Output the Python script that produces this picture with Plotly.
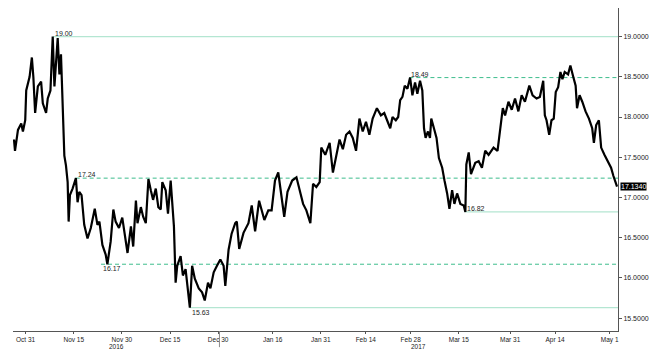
import pandas as pd
import plotly.graph_objects as go

BASE = pd.Timestamp("2016-10-31")

# day offsets from 2016-10-31 and price values
day = [-3.62, -3.31, -2.38, -1.36, -0.84, -0.12, 0.19, 1.24, 1.95, 2.41, 2.97, 3.81, 4.83, 5.36, 6.38, 6.90, 7.74, 8.45,
       8.98, 9.47, 10.00, 10.53, 11.02, 11.33, 11.76, 12.07, 12.57, 13.10, 13.41, 13.81, 14.64, 15.67, 16.19, 16.72,
       17.43, 18.27, 19.29, 20.31, 21.55, 22.38, 23.00, 23.93, 24.95, 25.48, 26.50, 27.34, 28.05, 29.10, 30.12, 31.20,
       31.76, 32.82, 33.53, 34.37, 34.86, 35.91, 36.63, 37.46, 38.27, 39.01, 39.72, 40.56, 41.36, 42.11, 42.60, 43.65,
       44.37, 45.20, 45.70, 46.22, 46.75, 47.24, 48.30, 49.01, 49.85, 51.18, 51.89, 52.73, 53.96, 54.99, 55.82, 56.84,
       57.59, 58.61, 59.63, 60.68, 61.70, 62.23, 63.25, 64.20, 65.33, 65.82, 66.56, 67.90, 69.44, 70.46, 71.52, 72.76,
       74.40, 75.63, 76.66, 77.71, 78.73, 79.75, 80.59, 81.61, 83.07, 84.40, 85.45, 86.47, 87.49, 88.73, 89.57, 90.59,
       91.64, 92.14, 93.38, 94.74, 95.76, 96.78, 97.83, 98.86, 99.88, 100.93, 101.95, 102.97, 104.02, 105.05, 106.07,
       107.12, 108.14, 109.47, 110.71, 111.76, 112.57, 113.62, 114.33, 115.36, 116.10, 116.72, 117.43, 118.14, 118.98,
       119.81, 120.53, 121.36, 122.07, 122.91, 123.62, 124.15, 124.64, 125.39, 126.01, 126.41, 127.24, 128.05, 128.79,
       129.81, 130.53, 131.36, 132.07, 132.91, 133.62, 134.46, 135.48, 136.53, 137.03, 137.34, 138.08, 138.79, 140.12,
       141.18, 142.20, 143.22, 144.27, 145.82, 147.06, 147.86, 148.70, 149.41, 150.46, 151.49, 152.51, 153.56, 154.58,
       155.60, 156.97, 157.99, 159.23, 160.25, 161.30, 161.80, 162.33, 163.16, 163.87, 164.58, 165.20, 165.95, 166.66,
       167.28, 167.99, 169.04, 169.76, 170.59, 171.40, 171.83, 172.63, 173.47, 174.49, 175.54, 176.56, 177.09, 177.80,
       178.64, 179.35, 180.37, 181.42, 182.44, 183.15, 183.99, 184.30]
price = [17.72, 17.58, 17.84, 17.92, 17.82, 17.96, 18.33, 18.50, 18.74, 18.50, 18.05, 18.38, 18.44, 18.17, 18.05, 18.23,
         18.33, 19.00, 18.38, 18.70, 18.98, 18.53, 18.78, 18.41, 17.92, 17.52, 17.40, 17.19, 16.70, 17.03, 17.11, 17.24,
         16.94, 17.07, 17.03, 16.66, 16.49, 16.62, 16.86, 16.66, 16.70, 16.41, 16.29, 16.17, 16.45, 16.85, 16.70, 16.62,
         16.75, 16.43, 16.31, 16.64, 16.39, 16.96, 16.68, 16.88, 16.76, 16.68, 17.23, 17.09, 16.97, 17.11, 16.88, 16.85,
         17.19, 17.09, 16.80, 17.21, 16.96, 16.64, 15.94, 16.15, 16.27, 16.03, 16.11, 15.63, 16.15, 15.99, 15.87, 15.82,
         15.72, 15.94, 15.87, 16.07, 16.15, 16.23, 16.15, 15.90, 16.35, 16.55, 16.68, 16.70, 16.36, 16.56, 16.68, 16.90,
         16.58, 16.96, 16.72, 16.84, 16.84, 17.21, 17.31, 17.00, 16.76, 17.07, 17.21, 17.25, 17.07, 16.92, 16.84, 16.68,
         17.17, 17.13, 17.19, 17.62, 17.53, 17.68, 17.31, 17.53, 17.72, 17.60, 17.78, 17.82, 17.74, 17.58, 17.98, 17.82,
         17.94, 17.78, 17.98, 18.11, 18.02, 18.05, 17.96, 17.86, 18.00, 17.96, 18.00, 18.21, 18.25, 18.39, 18.35, 18.49,
         18.27, 18.43, 18.29, 18.45, 18.33, 17.86, 17.74, 17.82, 17.74, 17.98, 17.86, 17.74, 17.49, 17.37, 17.21, 17.05,
         16.86, 17.09, 16.92, 17.05, 16.92, 16.90, 16.82, 17.41, 17.56, 17.29, 17.43, 17.45, 17.37, 17.58, 17.53, 17.62,
         17.58, 17.86, 18.11, 18.02, 18.19, 18.09, 18.23, 18.07, 18.27, 18.19, 18.39, 18.27, 18.23, 18.25, 18.45, 18.02,
         17.96, 17.78, 17.96, 17.98, 18.31, 18.37, 18.56, 18.47, 18.56, 18.53, 18.64, 18.51, 18.39, 18.11, 18.27, 18.19,
         18.07, 17.98, 17.86, 17.68, 17.90, 17.96, 17.62, 17.53, 17.45, 17.37, 17.27, 17.17, 17.134]

# support / resistance levels: value, start (day offset), style, label placement
level_value = [19.00, 18.49, 17.24, 16.82, 16.17, 15.63]
level_start = [8.55, 119.6, 15.6, 137.0, 23.5, 51.1]
level_dash = ["solid", "dash", "dash", "solid", "dash", "solid"]
level_label = ["19.00", "18.49", "17.24", "16.82", "16.17", "15.63"]
level_label_pos = ["above", "above", "above", "right", "below", "below"]

tick_labels = ["Oct 31", "Nov 15", "Nov 30", "Dec 15", "Dec 30", "Jan 16", "Jan 31", "Feb 14", "Feb 28",
               "Mar 15", "Mar 31", "Apr 14", "May 1"]
tick_dates = ["2016-10-31", "2016-11-15", "2016-11-30", "2016-12-15", "2016-12-30", "2017-01-16", "2017-01-31",
              "2017-02-14", "2017-02-28", "2017-03-15", "2017-03-31", "2017-04-14", "2017-05-01"]
y_ticks = [15.5, 16.0, 16.5, 17.0, 17.5, 18.0, 18.5, 19.0]
last_price = 17.1340

def d2t(d):
    return BASE + pd.Timedelta(days=d)

x_start = d2t(-3.93)
x_end = d2t(184.6)

FONT = "Liberation Sans, Arial"
fig = go.Figure()

SOLID_C = "#b4e6d2"
DASH_C = "#3dbd8c"

for v, s, ds in zip(level_value, level_start, level_dash):
    fig.add_trace(go.Scatter(
        x=[d2t(s), x_end], y=[v, v], mode="lines",
        line=dict(color=SOLID_C if ds == "solid" else DASH_C, width=1.3 if ds == "solid" else 1,
                  dash="solid" if ds == "solid" else "4px,3px"),
        hoverinfo="skip", showlegend=False))

fig.add_trace(go.Scatter(
    x=[d2t(d) for d in day], y=price, mode="lines",
    line=dict(color="#000000", width=2.2), showlegend=False))

annotations = []
for v, s, lab, pos in zip(level_value, level_start, level_label, level_label_pos):
    a = dict(x=d2t(s), y=v, xref="x", yref="y", text=lab, showarrow=False,
             font=dict(family=FONT, size=7, color="#222"), xanchor="left")
    if pos == "above":
        a.update(yanchor="bottom", yshift=-2)
    elif pos == "below":
        a.update(yanchor="top", yshift=1)
    else:
        a.update(yanchor="middle", yshift=3)
    annotations.append(a)

annotations.append(dict(x=1, y=last_price, xref="paper", yref="y", text=format(last_price, ".4f"),
                        showarrow=False, xanchor="left", yanchor="middle", xshift=2,
                        font=dict(family=FONT, size=7, color="#ffffff"),
                        bgcolor="#000000", borderpad=0))
for yr, d in [("2016", 28.3), ("2017", 122.3)]:
    annotations.append(dict(x=d2t(d), y=0, xref="x", yref="paper", text=yr, showarrow=False,
                            yanchor="top", yshift=-10, font=dict(family=FONT, size=6.5, color="#222")))

fig.update_layout(
    width=657, height=352,
    margin=dict(l=13, r=35, t=8, b=16),
    paper_bgcolor="white", plot_bgcolor="white",
    annotations=annotations,
    shapes=[dict(type="line", xref="x", yref="paper", x0=d2t(60.4), x1=d2t(60.4), y0=0, y1=-0.05,
                 line=dict(color="#888", width=1))],
    xaxis=dict(type="date", range=[x_start, x_end], showgrid=False, zeroline=False,
               showline=True, linecolor="#555", linewidth=1,
               tickmode="array", tickvals=tick_dates, ticktext=tick_labels,
               ticks="outside", ticklen=2, tickcolor="#555",
               tickfont=dict(family=FONT, size=6.5, color="#222")),
    yaxis=dict(side="right", range=[15.34, 19.355], showgrid=False, zeroline=False,
               showline=True, linecolor="#555", linewidth=1,
               tickmode="array", tickvals=y_ticks, tickformat=".4f",
               ticks="outside", ticklen=3, tickcolor="#555",
               tickfont=dict(family=FONT, size=7, color="#222")),
)

fig.write_html("out.html")
